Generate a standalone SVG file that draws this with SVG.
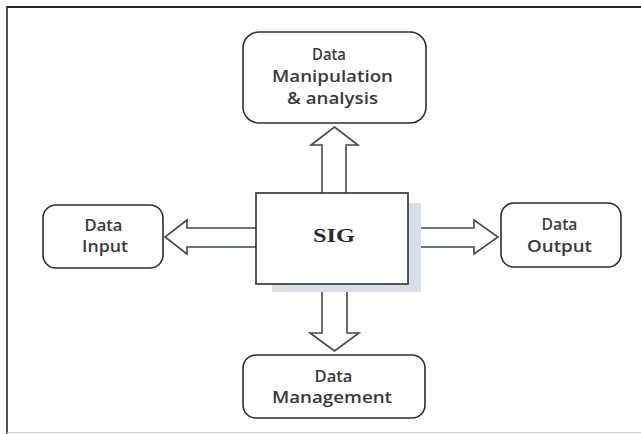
<svg xmlns="http://www.w3.org/2000/svg" width="641" height="434" viewBox="0 0 641 434">
<style>
.box{fill:#fff;stroke:#2e2e2e;stroke-width:1.6}
.lbl{font-family:"Open Sans","Liberation Sans",sans-serif;font-size:15.5px;font-weight:600;fill:#3a3a3a;text-anchor:middle}
.arr{fill:#fff;stroke:#3e4a52;stroke-width:1.6;stroke-linejoin:miter}
.frame{stroke:#222;fill:none}
</style>
<rect width="641" height="434" fill="#fff"/>
<g id="frame">
<line class="frame" x1="7" y1="7" x2="641" y2="7" stroke-width="2.2"/>
<line class="frame" x1="7" y1="6" x2="7" y2="434" stroke-width="1.6"/>
<line x1="7" y1="432.5" x2="641" y2="432.5" stroke="#ccc" stroke-width="1"/>
</g>
<g id="connectors">
<path class="arr" d="M322,193 L322,145 L311,145 L334.5,127 L358,145 L346,145 L346,193"/>
<path class="arr" d="M322,284 L322,333 L310,333 L334.5,351 L359,333 L347,333 L347,284"/>
<path class="arr" d="M256,228 L187,228 L187,220 L165,237 L187,254 L187,247 L256,247"/>
<path class="arr" d="M408,228 L474,228 L474,220 L498,237 L474,254 L474,247 L408,247"/>
</g>
<g id="sig">
<rect x="272" y="203" width="149" height="89" fill="#d8dee5"/>
<rect class="box" x="256" y="193" width="152" height="91"/>
<text x="334" y="242" font-family="'Liberation Serif',serif" font-weight="bold" font-size="19" fill="#2a2a2a" text-anchor="middle" textLength="42" lengthAdjust="spacingAndGlyphs">SIG</text>
</g>
<g id="manip">
<rect class="box" x="243" y="32" width="183" height="91" rx="16"/>
<text class="lbl" x="329" y="60" textLength="34" lengthAdjust="spacingAndGlyphs">Data</text>
<text class="lbl" x="332.5" y="82" textLength="121" lengthAdjust="spacingAndGlyphs">Manipulation</text>
<text class="lbl" x="332.5" y="104" textLength="91" lengthAdjust="spacingAndGlyphs">&amp; analysis</text>
</g>
<g id="input">
<rect class="box" x="43" y="205" width="120" height="63" rx="13"/>
<text class="lbl" x="103.5" y="231" textLength="38" lengthAdjust="spacingAndGlyphs">Data</text>
<text class="lbl" x="105" y="252" textLength="46" lengthAdjust="spacingAndGlyphs">Input</text>
</g>
<g id="output">
<rect class="box" x="501" y="203" width="120" height="64" rx="13"/>
<text class="lbl" x="559.5" y="230" textLength="36" lengthAdjust="spacingAndGlyphs">Data</text>
<text class="lbl" x="559.5" y="252" textLength="65" lengthAdjust="spacingAndGlyphs">Output</text>
</g>
<g id="management">
<rect class="box" x="243" y="355" width="182" height="63" rx="13"/>
<text class="lbl" x="333.5" y="382" textLength="38" lengthAdjust="spacingAndGlyphs">Data</text>
<text class="lbl" x="332" y="403" textLength="120" lengthAdjust="spacingAndGlyphs">Management</text>
</g>
</svg>
